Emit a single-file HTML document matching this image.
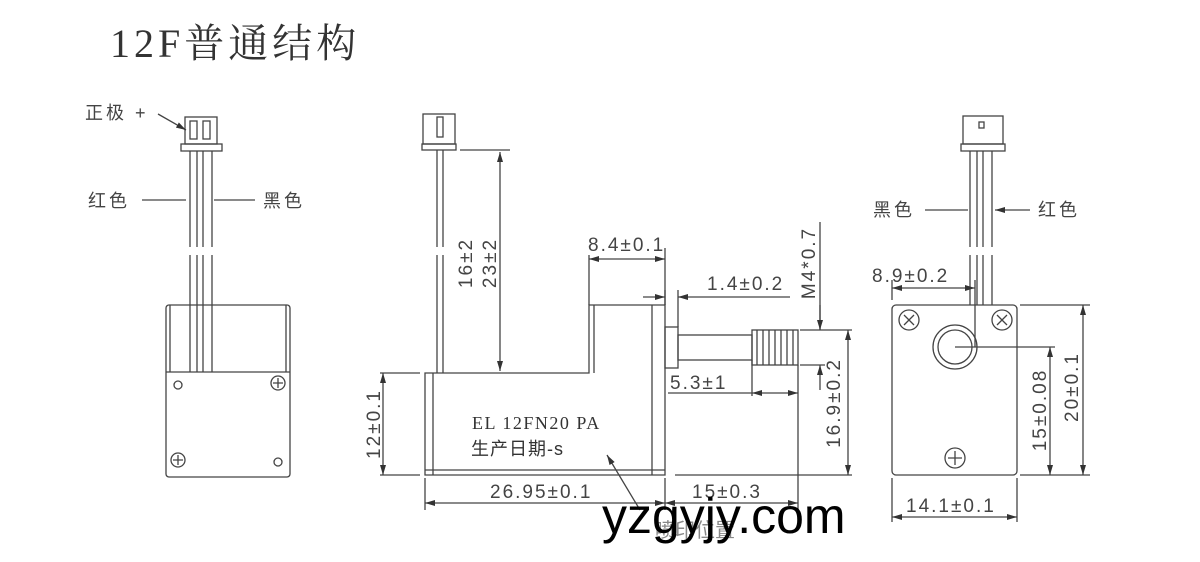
<!DOCTYPE html>
<html><head><meta charset="utf-8"><style>
html,body{margin:0;padding:0;background:#fff;}
svg{display:block;}
text{font-family:"Liberation Sans","Noto Sans CJK SC",sans-serif;fill:#444;}
</style></head><body>
<svg width="1200" height="562" viewBox="0 0 1200 562" xmlns="http://www.w3.org/2000/svg">
<defs>
<marker id="a" viewBox="0 0 10 6" refX="10" refY="3" markerWidth="10" markerHeight="6" orient="auto-start-reverse" markerUnits="userSpaceOnUse"><path d="M0,0L10,3L0,6z" fill="#333"/></marker>
</defs>
<text x="110" y="57" style="font-family:'Liberation Serif','Noto Serif CJK SC',serif;font-size:40px;fill:#333;letter-spacing:4px">12F普通结构</text>

<g stroke="#444" stroke-width="1.3" fill="none">
<!-- LEFT VIEW -->
<rect x="185" y="117" width="32" height="27"/>
<rect x="190" y="121" width="7" height="18"/><rect x="203" y="121" width="7" height="18"/>
<rect x="181" y="144" width="41" height="7"/>
<path d="M190 151V247M197 151V247M203 151V247M212 151V247M190 255V372M197 255V372M203 255V372M212 255V372"/>
<rect x="166" y="305" width="124" height="172" rx="3"/>
<path d="M170 305V372M286 305V372M166 372H290"/>
<circle cx="178" cy="385" r="4"/><circle cx="278" cy="462" r="4"/>
<circle cx="278" cy="383" r="7"/><path d="M278 378V388M273 383H283"/>
<circle cx="178" cy="460" r="7"/><path d="M178 455V465M173 460H183"/>
<path d="M142 200H186M255 200H214M158 114L186 130" marker-end="url(#a)"/>

<!-- MIDDLE VIEW -->
<rect x="423" y="114" width="32" height="30"/>
<rect x="437" y="117" width="6" height="20"/>
<rect x="422" y="144" width="34" height="6"/>
<path d="M437 150V247M443 150V247M437 255V373M443 255V373"/>
<path d="M425 373H589V305H665V475H425Z"/>
<path d="M433 373V475M425 470H665M652 305V475M594 305V373"/>
<rect x="665" y="327" width="13" height="41"/>
<rect x="678" y="335" width="74" height="25"/>
<rect x="752" y="330" width="46" height="35"/>
<path d="M757 330V365M763 330V365M769 330V365M775 330V365M781 330V365M787 330V365M793 330V365"/>
<path d="M460 150H510"/>
<path d="M500 152V371" marker-start="url(#a)" marker-end="url(#a)"/>
<path d="M589 305V255M665 305V248"/>
<path d="M589 259H665" marker-start="url(#a)" marker-end="url(#a)"/>
<path d="M665 305V290M678 327V290"/>
<path d="M643 297H665" marker-end="url(#a)"/><path d="M700 297H678" marker-end="url(#a)"/><path d="M700 297H790"/>
<path d="M820 222V330"/><path d="M820 305V330" marker-end="url(#a)"/><path d="M820 390V365" marker-end="url(#a)"/>
<path d="M800 330H852M675 475H852M800 365H825"/>
<path d="M848 330V475" marker-start="url(#a)" marker-end="url(#a)"/>
<path d="M752 360V396M798 365V510M668 393H752"/>
<path d="M752 393H798" marker-start="url(#a)" marker-end="url(#a)"/>
<path d="M380 373H420M380 475H420"/>
<path d="M383 373V475" marker-start="url(#a)" marker-end="url(#a)"/>
<path d="M425 478V510M665 478V510"/>
<path d="M425 503H665" marker-start="url(#a)" marker-end="url(#a)"/>
<path d="M665 503H798" marker-start="url(#a)" marker-end="url(#a)"/>
<path d="M640 510L607 455" marker-end="url(#a)"/>

<!-- RIGHT VIEW -->
<rect x="963" y="116" width="40" height="28"/>
<rect x="979" y="122" width="5" height="6"/>
<rect x="961" y="144" width="44" height="7"/>
<path d="M970 151V247M977 151V247M983 151V247M992 151V247M970 255V305M977 255V305M983 255V305M992 255V305"/>
<rect x="892" y="305" width="125" height="170" rx="4"/>
<circle cx="955" cy="347" r="22"/><circle cx="955" cy="347" r="17"/>
<circle cx="909" cy="320" r="10"/><path d="M904 315L914 325M914 315L904 325"/>
<circle cx="1002" cy="320" r="10"/><path d="M997 315L1007 325M1007 315L997 325"/>
<circle cx="955" cy="458" r="10"/><path d="M955 451V465M948 458H962"/>
<path d="M925 210H968M1030 210H995" marker-end="url(#a)"/>
<path d="M892 300V280M975 280V347M955 347H1055"/>
<path d="M892 288H975" marker-start="url(#a)" marker-end="url(#a)"/>
<path d="M1050 347V475" marker-start="url(#a)" marker-end="url(#a)"/>
<path d="M1020 305H1090M1020 475H1090"/>
<path d="M1083 305V475" marker-start="url(#a)" marker-end="url(#a)"/>
<path d="M892 478V522M1017 478V522"/>
<path d="M892 517H1017" marker-start="url(#a)" marker-end="url(#a)"/>
</g>

<g style="font-size:18px;letter-spacing:3px">
<text x="85" y="119">正极 +</text>
<text x="88" y="207">红色</text>
<text x="263" y="207">黑色</text>
<text x="873" y="216">黑色</text>
<text x="1038" y="216">红色</text>
</g>
<g style="font-size:19px;letter-spacing:2px">
<text x="588" y="251">8.4±0.1</text>
<text x="707" y="290">1.4±0.2</text>
<text x="670" y="389">5.3±1</text>
<text x="490" y="498">26.95±0.1</text>
<text x="692" y="498">15±0.3</text>
<text x="872" y="282">8.9±0.2</text>
<text x="906" y="512">14.1±0.1</text>
<text transform="translate(472,263) rotate(-90)" text-anchor="middle">16±2</text>
<text transform="translate(496,263) rotate(-90)" text-anchor="middle">23±2</text>
<text transform="translate(815,263) rotate(-90)" text-anchor="middle">M4*0.7</text>
<text transform="translate(840,403) rotate(-90)" text-anchor="middle">16.9±0.2</text>
<text transform="translate(380,424) rotate(-90)" text-anchor="middle">12±0.1</text>
<text transform="translate(1046,410) rotate(-90)" text-anchor="middle">15±0.08</text>
<text transform="translate(1078,387) rotate(-90)" text-anchor="middle">20±0.1</text>
</g>
<text x="472" y="429" style="font-family:'Liberation Serif',serif;font-size:18px;fill:#333;letter-spacing:1.5px">EL 12FN20 PA</text>
<text x="471" y="455" style="font-size:18px;fill:#333;letter-spacing:1px">生产日期-s</text>
<text x="655" y="537" style="font-size:20px;fill:#888">喷印位置</text>
<text x="602" y="533" style="font-size:50px;fill:#000">yzgyjy.com</text>
</svg>
</body></html>
